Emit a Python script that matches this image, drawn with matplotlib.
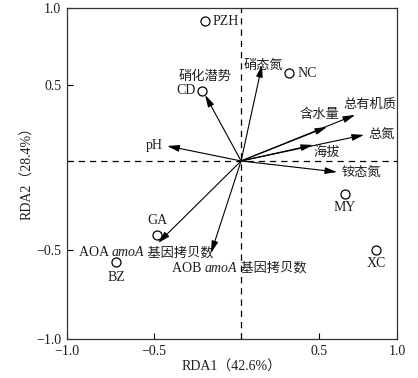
import matplotlib
matplotlib.use("Agg")
import matplotlib.pyplot as plt

plt.rcParams['font.family'] = ['Liberation Serif', 'Noto Sans CJK SC']
plt.rcParams['axes.unicode_minus'] = True

# sample sites (RDA scores)
sites = ['PZH', 'NC', 'CD', 'GA', 'BZ', 'MY', 'XC']
site_x = [-0.218, 0.291, -0.236, -0.509, -0.758, 0.630, 0.818]
site_y = [0.848, 0.533, 0.424, -0.448, -0.612, -0.200, -0.539]

# environmental / response vectors
vectors = ['硝化潜势', '硝态氮', '总有机质', '含水量', '总氮', '海拔', '铵态氮', 'pH',
           'AOA', 'AOB']
vec_x = [-0.218, 0.127, 0.691, 0.521, 0.745, 0.436, 0.582, -0.448, -0.503, -0.182]
vec_y = [0.400, 0.582, 0.279, 0.206, 0.158, 0.097, -0.067, 0.091, -0.497, -0.558]

xtick_pos = [-1.055, -0.527, 0.0, 0.473, 0.945]
ytick_pos = [-1.079, -0.539, 0.0, 0.461, 0.927]
tick_labels = ['\u22121.0', '\u22120.5', '', '0.5', '1.0']

# label offsets in pixels (dx, dy up) and alignment
site_lab = {'PZH': (7, 0, 'left', 'center'), 'NC': (8, 0, 'left', 'center'),
            'CD': (-7, 0, 'right', 'center'), 'GA': (0, 14, 'center', 'center'),
            'BZ': (0, -16, 'center', 'center'), 'MY': (0, -14, 'center', 'center'),
            'XC': (0, -14, 'center', 'center')}
vec_lab = {'硝化潜势': (0, 18, 'center'), '硝态氮': (-19, -1, 'left'),
           '总有机质': (-12, 10, 'left'), '含水量': (-8, 12, 'center'),
           '总氮': (4, 0, 'left'), '海拔': (0, -8, 'left'), '铵态氮': (5, -1, 'left'),
           'pH': (-4, 0, 'right'), 'AOA': (-79, -10, 'left'), 'AOB': (-39, -15, 'left')}

PX = 0.72  # points per pixel at 100 dpi
FS = 9.5
FL = 10
TXT = '#1e1e1e'

fig = plt.figure(figsize=(4.18, 3.78), dpi=100)
ax = fig.add_axes([67/418, 39/378, 330/418, 331/378])
ax.set_xlim(-1.055, 0.945)
ax.set_ylim(-1.079, 0.927)

ax.axhline(0, color='k', lw=0.9, ls=(0, (5, 4)))
ax.axvline(0, color='k', lw=0.9, ls=(0, (5, 4)))

for name, x, y in zip(vectors, vec_x, vec_y):
    ax.annotate('', xy=(x, y), xytext=(0, 0),
                arrowprops=dict(arrowstyle='-|>,head_length=0.8,head_width=0.22',
                                color='k', lw=0.8, mutation_scale=9,
                                shrinkA=0, shrinkB=0))
    dx, dy, ha = vec_lab[name]
    if name in ('AOA', 'AOB'):
        t = ax.annotate(name + ' ', xy=(x, y), xytext=(dx*PX, dy*PX),
                        textcoords='offset points', ha='left', va='center',
                        fontsize=FL, color=TXT)
        t2 = ax.annotate('amoA', xycoords=t, xy=(1, 0), va='bottom',
                         fontsize=FL, color=TXT, style='italic')
        ax.annotate(' 基因拷贝数', xycoords=t2, xy=(1, 0), va='bottom',
                    fontsize=FS, color=TXT)
    else:
        fs = FL if name == 'pH' else FS
        ax.annotate(name, xy=(x, y), xytext=(dx*PX, dy*PX),
                    textcoords='offset points', ha=ha, va='center',
                    fontsize=fs, color=TXT)

ax.plot(site_x, site_y, 'o', ms=6.5, mfc='white', mec='k', mew=0.9, zorder=5)
for name, x, y in zip(sites, site_x, site_y):
    dx, dy, ha, va = site_lab[name]
    ax.annotate(name, xy=(x, y), xytext=(dx*PX, dy*PX), textcoords='offset points',
                ha=ha, va=va, fontsize=FL, color=TXT)

ax.set_xticks(xtick_pos)
ax.set_xticklabels(tick_labels)
ax.set_yticks(ytick_pos)
ax.set_yticklabels(tick_labels)
ax.tick_params(direction='in', length=4, width=0.8, labelsize=FL,
               labelcolor=TXT, pad=4)
for s in ax.spines.values():
    s.set_linewidth(0.9)
    s.set_color('#333333')

ax.set_xlabel('RDA1（42.6%）', fontsize=FL, color=TXT)
ax.xaxis.set_label_coords(0.5, -0.065)
ax.set_ylabel('RDA2（28.4%）', fontsize=FL, color=TXT)
ax.yaxis.set_label_coords(-0.1, 0.51)

fig.savefig('out.png', dpi=100)
